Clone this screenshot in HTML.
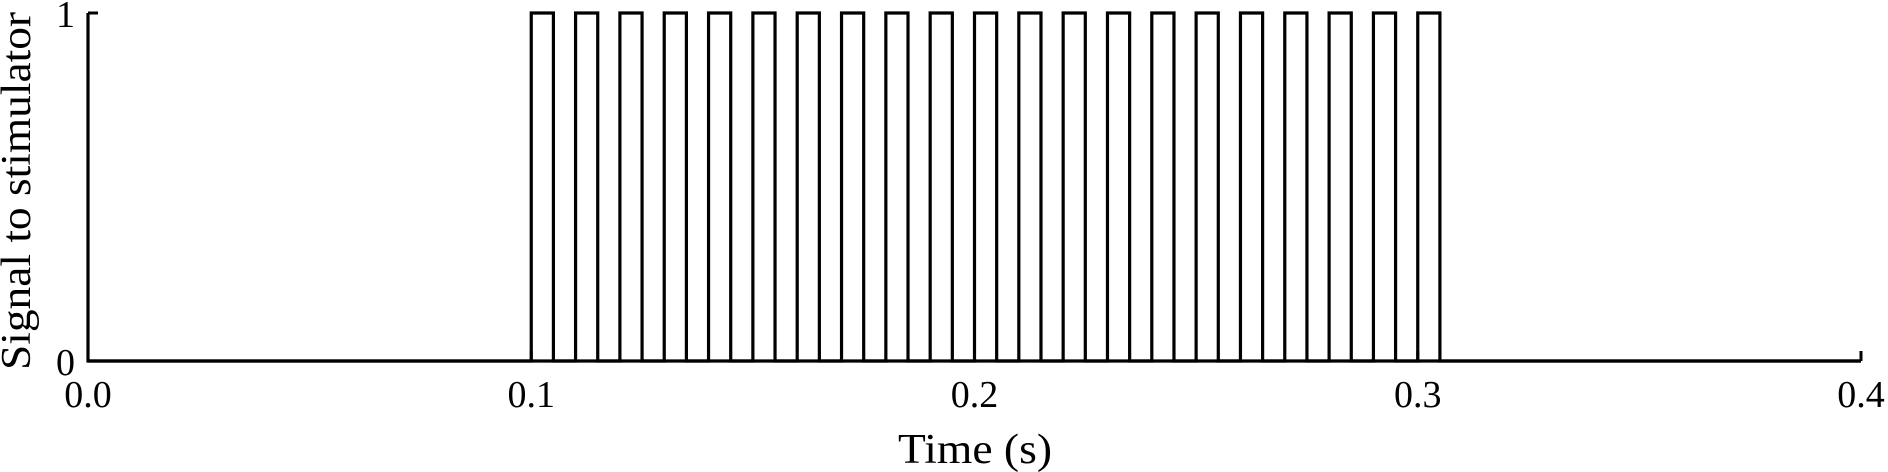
<!DOCTYPE html>
<html><head><meta charset="utf-8"><style>
html,body{margin:0;padding:0;background:#fff;}
svg{display:block;font-family:"Liberation Serif",serif;}
</style></head><body>
<svg id="chart" width="1888" height="472" viewBox="0 0 1888 472" xmlns="http://www.w3.org/2000/svg">
<g id="axes"></g>
<path id="signal" fill="none" stroke="#000" stroke-width="3.2" stroke-linejoin="miter"/>
<text x="975" y="463" font-size="42" text-anchor="middle" textLength="154" lengthAdjust="spacingAndGlyphs">Time (s)</text>
<text transform="translate(30,191) rotate(-90)" font-size="42" text-anchor="middle" textLength="358" lengthAdjust="spacingAndGlyphs">Signal to stimulator</text>
</svg>
<script>
const pulseStarts = [0.100,0.110,0.120,0.130,0.140,0.150,0.160,0.170,0.180,0.190,0.200,0.210,0.220,0.230,0.240,0.250,0.260,0.270,0.280,0.290,0.300];
const pulseWidth = 0.005;
const tEnd = 0.4;
const xTicks = [0.0,0.1,0.2,0.3,0.4];
const xTickLabels = ["0.0","0.1","0.2","0.3","0.4"];
const yTicks = [0,1];
const yTickLabels = ["0","1"];

const X0=88,X1=1861,Y0=361,Y1=13;
const xs=t=>X0+(t/0.4)*(X1-X0);
const ys=v=>Y0+(v/1)*(Y1-Y0);
const NS="http://www.w3.org/2000/svg";
const axes=document.getElementById('axes');
function mk(tag,attrs){const e=document.createElementNS(NS,tag);for(const k in attrs)e.setAttribute(k,attrs[k]);return e;}

const spines=mk('path',{d:`M${X0},${Y1} V${Y0} H${X1}`,fill:'none',stroke:'#000','stroke-width':3.2});


axes.appendChild(spines);

xTicks.forEach((t,i)=>{
  const x=xs(t);
  const tk=mk('line',{x1:x,x2:x,y1:Y0,y2:Y0-10,stroke:'#000','stroke-width':3});
  
  
  axes.appendChild(tk);
  const lb=mk('text',{x:x,y:407,'font-size':38,'text-anchor':'middle'});
  lb.textContent=xTickLabels[i];
  
  
  axes.appendChild(lb);
});
yTicks.forEach((v,i)=>{
  const y=ys(v);
  const tk=mk('line',{x1:X0,x2:X0+10,y1:y,y2:y,stroke:'#000','stroke-width':3});
  
  
  axes.appendChild(tk);
  const lb=mk('text',{x:75,y:y+14,'font-size':38,'text-anchor':'end'});
  lb.textContent=yTickLabels[i];
  
  
  axes.appendChild(lb);
});

let d=`M${xs(0)},${ys(0)}`;
pulseStarts.forEach(s=>{
  d+=` H${xs(s)} V${ys(1)} H${xs(s+pulseWidth)} V${ys(0)}`;
});
d+=` H${xs(tEnd)}`;
document.getElementById('signal').setAttribute('d',d);
</script>
</body></html>
